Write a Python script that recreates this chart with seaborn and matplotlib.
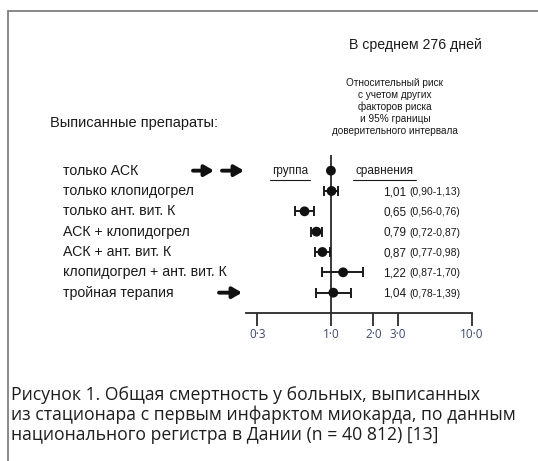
import numpy as np
import matplotlib.pyplot as plt
import matplotlib.transforms as mtransforms
from matplotlib.patches import Rectangle
import seaborn as sns

# data
drugs = ["только АСК", "только клопидогрел", "только ант. вит. К",
         "АСК + клопидогрел", "АСК + ант. вит. К",
         "клопидогрел + ант. вит. К", "тройная терапия"]
rr = [1.00, 1.01, 0.65, 0.79, 0.87, 1.22, 1.04]
ci_low = [1.00, 0.90, 0.56, 0.72, 0.77, 0.87, 0.78]
ci_high = [1.00, 1.13, 0.76, 0.87, 0.98, 1.70, 1.39]
rr_text = ["", "1,01", "0,65", "0,79", "0,87", "1,22", "1,04"]
ci_text = ["", "(0,90-1,13)", "(0,56-0,76)", "(0,72-0,87)", "(0,77-0,98)",
           "(0,87-1,70)", "(0,78-1,39)"]
ticks = [0.3, 1.0, 2.0, 3.0, 10.0]
tick_labels = ["0·3", "1·0", "2·0", "3·0", "10·0"]
arrow_rows = [0, 0, 6]

sns.set_style("white")
plt.rcParams["font.family"] = ["Liberation Sans", "DejaVu Sans"]

W, H = 538, 461
fig = plt.figure(figsize=(W / 100, H / 100), dpi=100)

# grey frame, cut at the right and bottom like the scan
fig.patches.append(Rectangle((8 / W, -0.1), 1.2, 1 - 11 / H + 0.1,
                             transform=fig.transFigure, fill=False,
                             edgecolor="#7f7f7f", lw=1.3))

ax = fig.add_axes([246 / W, 1 - 313 / H, 226 / W, 158 / H])
ax.set_xscale("log")
ax.set_xlim(0.25, 10)
ax.set_ylim(7.0, -0.77)

ypos = np.arange(len(drugs))
ax.axvline(1.0, color="#2a2a2a", lw=1.3, zorder=1)

rr_a = np.array(rr)
err = np.array([rr_a - np.array(ci_low), np.array(ci_high) - rr_a])
ax.errorbar(rr_a[1:], ypos[1:], xerr=err[:, 1:], fmt="none",
            ecolor="#1a1a1a", elinewidth=1.4, capsize=3.6, capthick=1.4, zorder=2)
sns.scatterplot(x=rr, y=ypos, ax=ax, color="#111111", s=50,
                edgecolor="none", zorder=3, legend=False)

ax.set_yticks([])
ax.set_xticks(ticks)
ax.set_xticklabels(tick_labels, fontsize=8.5, color="#3c4a6e",
                   family="Open Sans")
ax.xaxis.set_minor_locator(plt.NullLocator())
ax.tick_params(axis="x", bottom=True, direction="out", length=9, width=1.3,
               color="#2a2a2a", pad=2)
for s in ["top", "right", "left"]:
    ax.spines[s].set_visible(False)
ax.spines["bottom"].set_color("#2a2a2a")
ax.spines["bottom"].set_linewidth(1.3)

# row labels (left) and values (right)
lab_tr = mtransforms.blended_transform_factory(fig.transFigure, ax.transData)
for i, name in enumerate(drugs):
    ax.text(63 / W, i, name, transform=lab_tr, fontsize=10.2,
            va="center", ha="left", color="#1a1a1a")
    if rr_text[i]:
        ax.text(383 / W, i + 0.05, rr_text[i], transform=lab_tr, fontsize=8.5,
                va="center", ha="left", color="#1a1a1a")
        ax.text(409 / W, i + 0.05, ci_text[i], transform=lab_tr, fontsize=7.5,
                va="center", ha="left", color="#1a1a1a")

ax.text(290 / W, 0, "группа", transform=lab_tr, fontsize=8.5, va="center",
        ha="center", color="#1a1a1a")
ax.text(384 / W, 0, "сравнения", transform=lab_tr, fontsize=8.5, va="center",
        ha="center", color="#1a1a1a")
for x0, x1 in [(270, 310), (353, 416)]:
    ax.plot([x0 / W, x1 / W], [0.45, 0.45], transform=lab_tr,
            color="#1a1a1a", lw=0.8, clip_on=False)

# arrows
arrow_x = [(193, 214), (222, 244), (219, 242)]
for (x0, x1), r in zip(arrow_x, arrow_rows):
    ax.annotate("", xy=(x1 / W, r), xytext=(x0 / W, r),
                xycoords=lab_tr, textcoords=lab_tr,
                arrowprops=dict(arrowstyle="-|>,head_length=0.55,head_width=0.32",
                                color="#111111", lw=2.8, shrinkA=0, shrinkB=0))

# headers
fig.text(415 / W, 1 - 45 / H, "В среднем 276 дней", fontsize=10.2,
         ha="center", va="center", color="#1a1a1a")
fig.text(395 / W, 1 - 107 / H,
         "Относительный риск\nс учетом других\nфакторов риска\nи 95% границы\n"
         "доверительного интервала",
         fontsize=7.2, ha="center", va="center", color="#1a1a1a",
         linespacing=1.2)
fig.text(50 / W, 1 - 123 / H, "Выписанные препараты:", fontsize=10.5,
         ha="left", va="center", color="#1a1a1a")

# caption
fig.text(11 / W, 1 - 415 / H,
         "Рисунок 1. Общая смертность у больных, выписанных\n"
         "из стационара с первым инфарктом миокарда, по данным\n"
         "национального регистра в Дании (n = 40 812) [13]",
         fontsize=12.7, ha="left", va="center", color="#1e1e1e",
         family="Open Sans", linespacing=1.15)

fig.savefig("out.png", dpi=100)
